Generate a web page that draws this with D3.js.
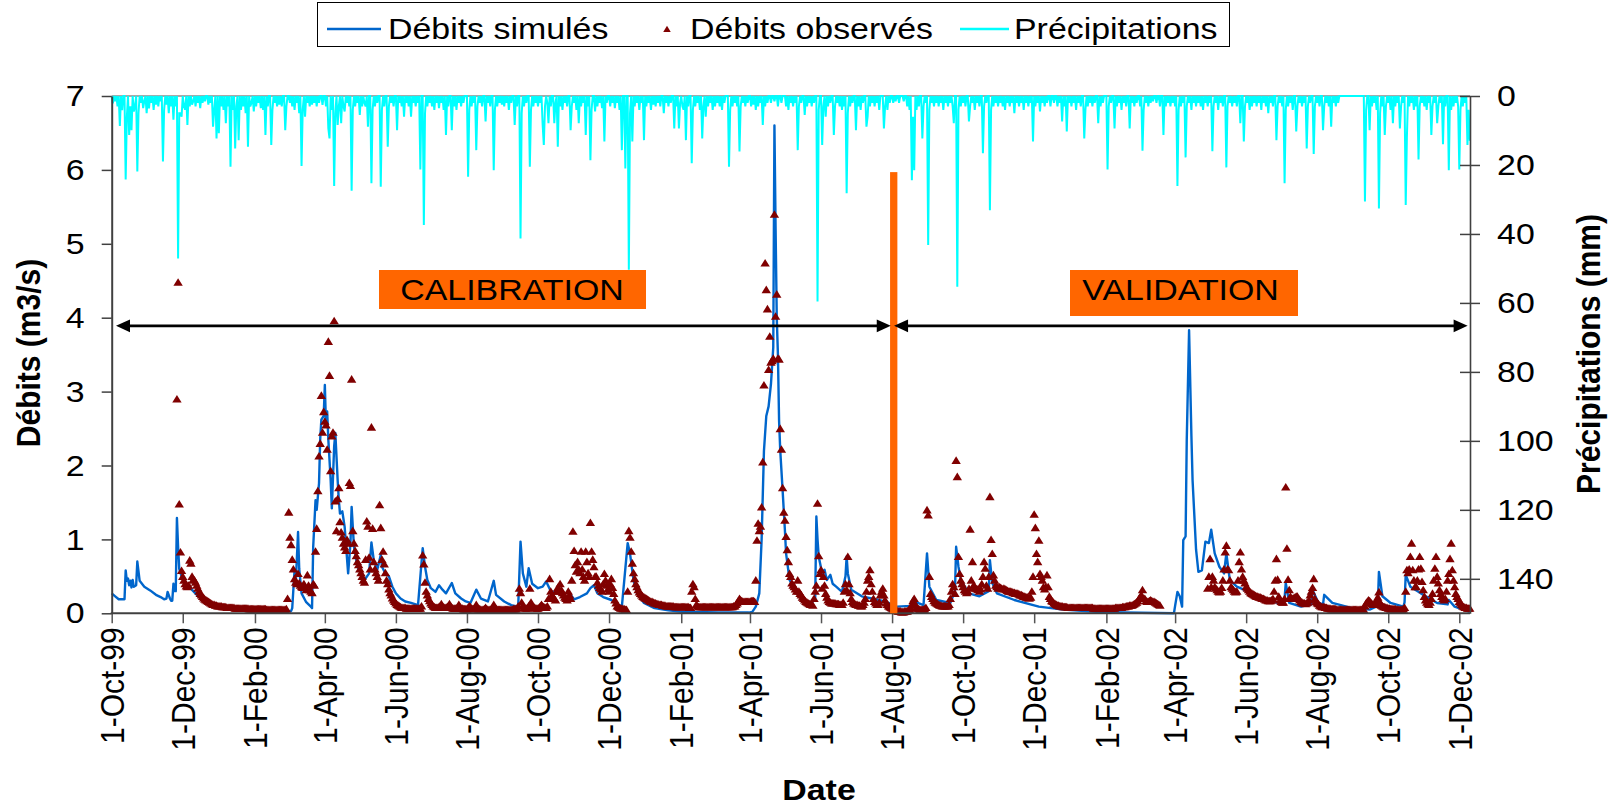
<!DOCTYPE html>
<html><head><meta charset="utf-8">
<script src="https://cdn.jsdelivr.net/npm/d3@7"></script>
<style>body{margin:0;background:#fff}</style>
</head><body><svg id="c" width="1614" height="807"></svg>
<script>
// ---------------- DATA ----------------
const startDate = "1999-10-01";           // day 0 of all day offsets
const lastDay = 1166;                      // 10-Dec-2002
const tickDates = ["1999-10-01","1999-12-01","2000-02-01","2000-04-01","2000-06-01","2000-08-01","2000-10-01","2000-12-01","2001-02-01","2001-04-01","2001-06-01","2001-08-01","2001-10-01","2001-12-01","2002-02-01","2002-04-01","2002-06-01","2002-08-01","2002-10-01","2002-12-01"];
const xTickLabels = ["1-Oct-99","1-Dec-99","1-Feb-00","1-Apr-00","1-Jun-00","1-Aug-00","1-Oct-00","1-Dec-00","1-Feb-01","1-Apr-01","1-Jun-01","1-Aug-01","1-Oct-01","1-Dec-01","1-Feb-02","1-Apr-02","1-Jun-02","1-Aug-02","1-Oct-02","1-Dec-02"];
const yLeftTicks = [0,1,2,3,4,5,6,7];
const yRightTicks = [0,20,40,60,80,100,120,140];
const legendLabels = ["Débits simulés","Débits observés","Précipitations"];
const periodLabels = ["CALIBRATION","VALIDATION"];
const splitDate = "2001-08-01";
const splitTop = 5.97;      // m3/s, top of the separator bar
const arrowLevel = 3.89;    // m3/s, level of the period arrows

// Simulated discharge (m3/s): [day offset, value]
const simQ = [[0,.27],[3,.23],[6,.19],[9,.19],[11,.19],[12,.58],[13,.44],[14,.47],[15,.38],[16,.44],[17,.35],[18,.45],[19,.36],[21,.38],[22,.7],[24,.44],[28,.36],[33,.31],[38,.25],[42,.22],[45,.19],[47,.2],[48,.29],[50,.2],[51,.17],[52,.17],[53,.4],[54,.3],[55,.3],[56,1.29],[57,.9],[58,.6],[60,.5],[63,.42],[66,.37],[70,.3],[75,.22],[80,.17],[90,.11],[100,.08],[115,.06],[130,.05],[145,.04],[154,.03],[155,.07],[157,.59],[158,.4],[160,1.1],[161,.6],[163,.27],[167,.15],[171,.09],[172,.07],[173,.9],[175,1.53],[176,1.4],[178,1.76],[179,2.35],[180,2.62],[182,2.67],[183,3.09],[184,2.53],[185,2.73],[186,2.35],[188,1.8],[189,1.42],[191,2.26],[192,2.44],[194,1.8],[195,1.53],[196,1.35],[198,1.38],[200,1.17],[203,.54],[205,.95],[206,1.44],[208,.9],[211,.63],[214,.54],[217,.45],[221,.54],[223,.96],[225,.72],[228,.59],[231,.79],[232,.63],[235,.54],[238,.5],[241,.36],[244,.27],[248,.2],[252,.16],[257,.14],[263,.11],[267,.88],[269,.63],[271,.45],[274,.34],[278,.29],[281,.38],[284,.32],[287,.27],[292,.41],[295,.27],[300,.2],[304,.16],[308,.14],[313,.32],[317,.2],[323,.16],[328,.44],[330,.25],[337,.16],[343,.11],[349,.09],[351,.97],[353,.54],[356,.36],[358,.61],[361,.4],[366,.34],[370,.36],[373,.43],[377,.3],[383,.27],[385,.32],[388,.2],[394,.25],[397,.19],[402,.22],[408,.27],[411,.34],[414,.38],[417,.27],[422,.22],[429,.18],[438,.09],[443,.95],[445,.81],[448,.45],[451,.27],[457,.14],[466,.07],[478,.04],[490,.02],[521,.01],[547,.01],[550,.02],[553,.09],[556,.27],[558,1.0],[560,2.2],[562,2.67],[564,2.8],[566,3.1],[568,3.6],[569,6.6],[570,5.2],[571,4.0],[572,3.5],[573,2.6],[574,2.2],[576,1.67],[578,1.12],[579,.81],[582,.45],[588,.27],[595,.18],[601,.14],[604,.2],[605,1.31],[606,1.0],[607,.77],[610,.54],[612,.59],[614,.45],[617,.52],[619,.4],[622,.36],[627,.29],[630,.5],[631,.77],[632,.54],[635,.32],[644,.23],[659,.18],[667,.14],[674,.09],[686,.1],[689,.2],[692,.14],[697,.11],[700,.81],[702,.36],[708,.18],[720,.14],[724,.3],[725,.9],[727,.63],[729,.45],[736,.27],[745,.23],[753,.3],[754,.72],[756,.41],[760,.27],[775,.18],[796,.09],[817,.05],[845,.02],[870,.01],[912,0],[913,.1],[915,.29],[917,.23],[919,.09],[920,.99],[922,1.04],[923,2.35],[925,3.83],[927,2.4],[928,1.8],[931,.86],[933,.56],[936,.58],[939,.97],[942,.95],[944,1.13],[947,.81],[951,.63],[955,.54],[957,.81],[960,.45],[966,.36],[972,.32],[978,.27],[989,.2],[1001,.14],[1007,.2],[1008,.41],[1011,.14],[1021,.09],[1030,.12],[1031,.32],[1036,.14],[1040,.12],[1041,.25],[1048,.14],[1065,.07],[1080,.05],[1087,.1],[1088,.56],[1091,.23],[1098,.14],[1109,.09],[1110,.15],[1111,.52],[1115,.36],[1124,.27],[1138,.14],[1147,.12],[1148,.18],[1153,.09],[1166,.02]];

// Observed discharge (m3/s), one value per day
const obsStart1 = "1999-11-26";
const obsQ1 = [
2.9,4.48,1.48,.83,.58,.5,.45,.4,.37,.36,
.38,.72,.68,.5,.46,.45,.42,.38,.34,.3,
.27,.25,.23,.21,.19,.18,.17,.16,.15,.14,
.13,.12,.12,.11,.11,.1,.1,.1,.1,.09,
.09,.09,.09,.08,.08,.08,.08,.08,.08,.08,
.07,.07,.07,.07,.07,.07,.07,.07,.07,.07,
.07,.07,.06,.06,.06,.06,.06,.06,.06,.06,
.06,.06,.06,.06,.06,.06,.06,.05,.05,.05,
.05,.05,.05,.05,.05,.05,.05,.05,.05,.05,
.05,.05,.05,.05,.06,.2,1.37,1.03,.93,.73,
.6,.47,.42,.4,.54,.41,.38,.36,.35,.4,
.35,.32,.52,.38,.32,.3,.28,.4,.38,.84,
1.15,1.66,2.13,2.3,2.95,2.45,2.73,2.6,2.55,2.22,
3.68,3.22,1.93,2.4,2.45,3.96,1.52,1.12,1.55,1.7,
1.24,1.1,1.03,.95,.9,.85,1,.95,1.77,1.73,
3.17,1.12,.95,.85,.78,.7,.66,.6,.55,.5,
.45,.42,.73,1.25,1.18,.76,.6,2.52,1.15,.7,
.6,.55,.5,.45,1.47,1.16,.73,.84,.67,.55,
.45,.4,.33,.28,.25,.21,.18,.16,.14,.12,
.11,.1,.09,.08,.08,.08,.08,.07,.07,.07,
.07,.07,.07,.07,.07,.07,.07,.07,.07,.07,
.1,.79,.67,.42,.3,.25,.2,.17,.14,.12,
.1,.09,.08,.08,.08,.09,.1,.13,.1,.08,
.08,.08,.09,.1,.13,.1,.08,.07,.07,.07,
.07,.08,.12,.09,.07,.07,.06,.06,.06,.06,
.08,.1,.09,.07,.06,.06,.08,.12,.08,.06,
.06,.05,.05,.05,.06,.08,.06,.05,.05,.05,
.05,.08,.12,.08,.06,.05,.05,.05,.05,.05,
.05,.05,.05,.05,.05,.05,.05,.05,.05,.06,
.06,.06,.07,.1,.34,.28,.15,.1,.08,.07,
.07,.07,.1,.34,.15,.1,.08,.08,.07,.07,
.07,.08,.1,.12,.1,.09,.08,.08,.1,.2,
.47,.3,.25,.22,.2,.18,.3,.35,.3,.4,
.32,.28,.25,.22,.2,.18,.3,.25,.2,.45,
1.11,.85,.66,.57,.7,.6,.55,.84,.6,.5,
.45,.84,.7,.55,.5,1.23,.84,.73,.63,.5,
.5,.42,.38,.35,.33,.3,.4,.54,.45,.38,
.33,.3,.4,.47,.35,.27,.18,.14,.1,.09,
.08,.07,.07,.06,.06,.05,.05,.3,1.12,1.03,
.84,.68,.55,.47,.4,.36,.32,.29,.27,.25,
.23,.22,.21,.2,.19,.18,.17,.16,.16,.15,
.14,.14,.13,.13,.12,.12,.12,.11,.11,.11,
.1,.1,.1,.1,.1,.1,.1,.09,.09,.09,
.09,.09,.09,.09,.09,.09,.09,.09,.09,.09,
.08,.08,.3,.4,.36,.2,.12,.1,.09,.09,
.09,.09,.09,.09,.09,.09,.09,.09,.09,.09,
.09,.09,.09,.09,.09,.09,.09,.09,.09,.09,
.09,.09,.09,.09,.09,.09,.09,.09,.1,.1,
.12,.14,.17,.2,.18,.17,.16,.16,.16,.16,
.16,.16,.16,.17,.17,.17,.16,.45,.99,1.22,
1.12,1.18,1.44,2.05,3.09,4.74,4.38,4.12,3.3,3.75,
3.4,3.42,3.45,5.4,4.02,4.32,3.45,3.44,2.5,2.22,
1.7,1.37,1.26,1.04,.86,.7,.54,.5,.41,.38,
.36,.33,.3,.45,.3,.27,.25,.22,.2,.18,
.16,.15,.14,.13,.12,.12,.11,.2,.3,.38,
1.49,.78,.54,.59,.34,.5,.38,.27,.22,.18,
.16,.15,.14,.14,.14,.14,.13,.13,.13,.12,
.12,.12,.15,.3,.4,.32,.77,.4,.28,.2,
.16,.14,.13,.12,.12,.11,.11,.1,.1,.12,
.15,.2,.3,.45,.5,.59,.4,.3,.2,.16,
.14,.12,.12,.15,.25,.3,.34,.25,.18,.14,
.12,.1,.09,.08,.07,.06,.05,.04,.04,.03,
.03,.03,.02,.02,.02,.03,.03,.03,.04,.05,
.07,.12,.17,.2,.12,.09,.07,.06,.05,.05,
.05,.05,.06,.08,1.4,1.33,.5,.27,.23,.2,
.17,.15,.14,.13,.12,.11,.11,.1,.1,.1,
.1,.1,.1,.12,.2,.3,.4,.36,.27,2.07,
1.85,.77,.54,.45,.4,.36,.32,.3,.28,.3,
.34,1.14,.45,.7,.38,.36,.34,.33,.32,.3,
.33,.4,.5,.7,.61,.38,.34,.5,1.58,1.0,
.81,.52,.45,.38,.36,.34,.36,.35,.34,.33,
.34,.33,.32,.31,.3,.3,.3,.29,.28,.28,
.27,.27,.27,.26,.25,.25,.24,.23,.23,.22,
.22,.21,.21,.22,.3,.5,1.34,1.16,.81,.7,
.99,.54,.5,.45,.36,.33,.36,.52,.36,.23,
.2,.17,.16,.14,.13,.12,.11,.11,.1,.1,
.1,.09,.09,.09,.09,.08,.08,.08,.08,.08,
.08,.08,.08,.08,.08,.08,.08,.08,.08,.08,
.08,.08,.08,.08,.08,.08,.08,.07,.07,.07,
.07,.07,.07,.07,.07,.07,.07,.07,.07,.07,
.07,.07,.07,.07,.07,.07,.08,.08,.08,.08,
.08,.08,.09,.09,.09,.1,.1,.1,.11,.11,
.11,.12,.13,.14,.15,.17,.2,.22,.25,.32,
.2,.2,.17,.16,.16,.17,.18,.17,.16,.16,
.15,.14,.13,.12,.11];
const obsStart2 = "2002-04-29";
const obsQ2 = [
.34,.5,.74,.36,.5,.45,.36,.34,.32,.3,
.29,.3,.35,.45,.6,.83,.92,.6,.59,.45,
.36,.34,.32,.3,.29,.3,.45,.7,.83,.6,
.5,.45,.41,.36,.34,.32,.3,.28,.27,.26,
.25,.24,.23,.23,.22,.22,.21,.2,.2,.19,
.18,.18,.17,.17,.17,.18,.2,.3,.45,.74,
.46,.23,.18,.16,.15,.15,.2,1.71,.88,.46,
.32,.23,.2,.2,.21,.22,.23,.23,.2,.18,
.16,.15,.14,.14,.13,.14,.15,.18,.25,.3,
.35,.47,.2,.16,.14,.13,.11,.1,.09,.09,
.09,.08,.08,.07,.07,.07,.06,.06,.06,.06,
.06,.05,.05,.05,.05,.05,.05,.05,.05,.05,
.05,.05,.05,.05,.05,.05,.05,.05,.05,.05,
.05,.05,.05,.05,.05,.1,.14,.16,.18,.17,
.15,.13,.12,.12,.13,.18,.22,.29,.15,.11,
.1,.09,.09,.08,.08,.07,.07,.06,.06,.06,
.06,.06,.05,.05,.05,.05,.05,.05,.06,.08,
.3,.59,.55,.6,.77,.95,.59,.45,.36,.36,
.45,.6,.77,.61,.43,.32,.23,.18,.15,.13,
.12,.15,.2,.27,.45,.61,.77,.5,.41,.32,
.27,.23,.2,.18,.2,.3,.45,.54,.74,.95,
.59,.45,.36,.27,.23,.2,.16,.14,.12,.1,
.09,.08,.08,.07,.07,.07];

// Daily precipitation (mm): [day offset, mm]; unlisted days are dry
const rainMM = [[1,2.1],[3,1.5],[5,3],[7,8.7],[9,4.1],[12,24.2],[13,6],[15,11.3],[16,3],[17,9.9],[19,4.5],[20,3],[22,21.9],[23,5],[25,2],[27,3.5],[28,1.5],[30,5],
[32,3.6],[34,2],[36,4],[38,2.5],[40,3],[42,1.5],[44,19],[45,4],[47,2.5],[49,5],[51,3],[53,6.9],[55,3],[57,47.1],[58,5],[59,5],[60,6],
[62,3],[63,4],[65,8.4],[67,3],[69,2.5],[70,1.5],[72,3],[74,2],[76,3.5],[78,2],[80,1.5],[83,2.5],[85,2],[87,8.9],[88,4],[90,12.3],
[92,10.8],[94,3],[96,4],[98,7.9],[100,3],[102,20.5],[104,4],[106,15.2],[107,3],[109,12.8],[111,4],[113,3],[115,5],[117,14.7],[119,3],[120,2],[122,4.5],
[124,3],[126,2],[128,3.5],[130,4],[132,11.3],[134,3],[137,14.2],[138,4],[140,2],[142,3],[144,2.5],[146,3],[149,9.9],[150,3],
[153,2],[155,3],[157,4],[159,2],[161,5],[163,20.3],[164,4],[166,6],[168,2],[170,3],[172,2.5],[174,2],[176,3],[178,2],[181,2.6],
[184,3],[186,9.4],[187,12.3],[189,4],[191,26.1],[192,5],[194,8.4],[195,3],[197,7.9],[199,3],[200,4.5],[202,2],[204,3],[206,27.5],[207,4],[209,3],[211,2],
[213,5.5],[215,3],[217,2],[218,3],[220,8.9],[223,25.3],[224,4],[226,3],[228,2],[231,26.3],[232,4],[234,3],[237,14.7],[238,3],[240,2],[242,3],
[245,9.9],[247,2],[249,3],[251,6],[253,2],[255,3],[257,6],[259,2],[261,3],[263,2],[265,21.3],[268,37.4],[269,5],[271,3],[273,2],
[275,3],[277,4],[279,2],[281,3.5],[283,2],[285,4],[287,11.3],[289,3],[292,9.9],[294,3],[296,4],[298,2],[300,3],[302,2],
[306,23.4],[307,4],[309,3],[311,2],[313,15.7],[314,3],[316,2],[318,3],[321,7.4],[323,2],[325,3],[328,21.5],[329,4],[331,3],[333,2],[335,2.5],
[337,3],[339,2],[341,4],[343,2],[346,8.4],[348,3],[351,41.3],[352,5],[354,3],[356,2],[359,20.5],[360,4],[362,3],[364,2],
[366,3],[368,2],[370,8.4],[371,14.2],[372,3],[374,2],[375,7.9],[377,3],[380,7.9],[381,2],[383,14.7],[385,3],[387,4],[389,2],[391,3],[394,9.9],[395,3],
[397,2],[399,4],[401,7.9],[403,3],[405,2],[407,11.3],[409,3],[411,18.6],[412,4],[415,4.5],[417,3],[419,2],[421,3.5],[423,13.2],[425,2],
[428,3],[430,2],[432,3.5],[434,2],[436,4],[438,15.7],[441,21],[444,50.4],[445,5],[447,13.2],[449,3],[451,2],[453,4],[455,2],[457,12.8],
[459,3],[461,2],[463,4],[465,2.5],[467,3],[469,2],[471,3],[474,5],[476,2],[478,3],[480,2],[483,9.4],[485,3],[487,9.4],[488,2],
[490,3],[491,4],[493,12.8],[495,3],[498,19.5],[499,4],[501,3],[503,2],[505,4],[507,12.3],[508,3],[510,6],[512,3],[514,2],[516,4],
[518,3],[520,2],[522,3],[524,4],[526,2],[530,20.5],[531,4],[533,3],[535,2],[537,3],[539,16.1],[540,3],[542,2],[544,3],[546,2],
[549,3],[551,2.5],[553,4],[555,3],[557,2],[559,8.4],[561,3],[563,2],[566,2],[569,1.5],[572,3],[575,2],
[579,3],[581,4],[583,2],[585,3],[587,2],[589,15.7],[590,3],[592,2],[595,5.5],[597,3],[599,2],[601,3],[603,2],[606,59.6],[607,4],
[610,14.2],[611,3],[613,6],[615,3],[617,2],[620,11.3],[621,3],[623,2],[625,3],[627,4],[629,3],[631,28.2],[632,5],[634,3],[636,2],
[639,9.9],[641,3],[643,4],[645,2],[648,8.9],[649,6],[651,3],[653,2],[655,3],[657,2],[659,4],[663,9.4],[664,3],[666,4],[668,2],
[671,2],[673,1.5],[676,2],[680,1.5],[683,3],[685,4],[687,24.4],[688,6],[689,21.5],[691,4],[693,3],[696,12.3],[697,3],[699,2],
[701,43.2],[702,4],[704,2],[706,3],[708,2],[710,3],[712,2],[714,4],[716,2],[718,3],[720,2],[722,3],[723,7.9],[726,55.3],[727,4],[729,3],
[731,2],[733,3],[736,7.4],[737,3],[739,2],[741,4],[743,2],[745,3],[748,16.6],[749,3],[751,2],[754,33.1],[755,4],[757,3],[759,2],[761,3],
[763,2],[765,3],[767,4],[769,2],[771,3],[773,2],[775,5],[777,2],[779,3],[781,2],[783,4],[785,2],[787,3],[789,2],[791,13.2],
[793,3],[795,2],[797,4.5],[799,2],[801,3],[803,2],[806,3],[809,2],[812,3],[814,2],[816,7.4],[818,3],[820,10.3],[822,2],
[824,3],[826,2],[828,4],[830,2],[832,3],[835,12.3],[836,4],[838,3],[840,2],[842,3],[844,2],[847,7.9],[849,3],[851,2],
[855,21.3],[856,3],[858,2],[861,9.4],[863,3],[865,2],[867,4],[869,2],[871,3],[874,9.4],[876,2],[878,3],[880,2],
[883,3],[885,15.9],[886,4],[888,2],[890,3],[892,2],[894,1.5],[897,2],[900,3],[903,11.3],[905,3],[907,2],[909,3],[911,2],
[913,3],[915,26.1],[916,4],[918,3],[920,2],[922,17.8],[923,3],[925,2],[927,4],[929,2],[931,3],[933,2],[935,3],[937,4],[939,2],[941,3],
[943,2],[945,16],[946,3],[948,2],[950,4],[952,2],[954,3],[957,20.7],[958,3],[960,2],[962,3],[964,2],[966,3],[969,7.9],[972,13.2],[973,3],
[975,2],[977,4],[979,3],[981,2],[983,3],[985,2],[987,4],[989,2],[991,3],[993,5],[995,2],[997,3],[1000,12.8],[1001,3],[1003,2],
[1005,3],[1007,25.3],[1008,4],[1010,3],[1012,2],[1014,4],[1017,10.3],[1018,3],[1020,2],[1022,3],[1024,2],[1026,15.2],[1027,3],[1029,2],[1032,16.8],[1033,3],
[1035,2],[1037,3],[1040,9.9],[1041,3],[1043,2],[1045,3],[1047,8.9],[1049,2],[1051,3],[1053,2],
[1076,30.6],[1077,4],[1080,9.9],[1082,3],[1084,2],[1086,4],[1088,32.6],[1089,5],[1091,3],[1093,11.3],[1094,3],
[1096,2],[1098,4],[1100,7.9],[1102,3],[1104,2],[1106,9.4],[1107,3],[1109,2],[1111,31.6],[1112,12],[1114,3],[1116,2],[1118,4],[1120,3],[1122,18.4],[1123,3],[1125,2],
[1127,3],[1129,4],[1131,2],[1133,11.3],[1134,3],[1136,2],[1138,7.9],[1139,3],[1141,2],[1143,14],[1145,3],[1148,21.5],[1150,4],[1152,3],[1154,2],[1156,3],
[1157,21.3],[1158,4],[1160,3],[1162,2],[1164,14.2],[1165,4],[1166,13]];

// ---------------- CHART ----------------
const FONT = '"Liberation Sans", Arial, sans-serif';
const SX = 1.13; // horizontal stretch of the original picture's lettering
const svg = d3.select("#c");
svg.append("rect").attr("width",1614).attr("height",807).attr("fill","#fff");

const parse = d3.utcParse("%Y-%m-%d");
const t0 = parse(startDate);
const dayDate = i => d3.utcDay.offset(t0, i);
const plotL = 111.7, plotR = 1470, plotT = 96, plotB = 613.3;
const x = d3.scaleUtc().domain([t0, parse("2002-12-01")]).range([plotL, 1459.3]);
const yL = d3.scaleLinear().domain([0,7]).range([plotB, plotT]);
const yR = d3.scaleLinear().domain([0,150]).range([plotT, plotB]);

function txt(parent, px, py, s, o = {}) {
  return parent.append("text")
    .attr("transform", `translate(${px},${py}) scale(${SX},1)` + (o.rot ? " rotate(-90)" : ""))
    .attr("text-anchor", o.anchor || "start")
    .attr("dy", o.dy || null)
    .attr("font-family", FONT)
    .attr("font-size", o.size || 30)
    .attr("font-weight", o.bold ? "bold" : "normal")
    .attr("fill", "#000")
    .text(s);
}

// top border of plot area
svg.append("line").attr("x1",plotL).attr("x2",plotR).attr("y1",plotT).attr("y2",plotT)
  .attr("stroke","#8c8c8c").attr("stroke-width",1.5);

// simulated discharge line
svg.append("path").datum(simQ)
  .attr("d", d3.line().x(d => x(dayDate(d[0]))).y(d => yL(d[1])))
  .attr("fill","none").attr("stroke","#0066cc").attr("stroke-width",2.4).attr("stroke-linejoin","round");

// observed triangles
const obsPts = [];
obsQ1.forEach((v,i) => obsPts.push([d3.utcDay.offset(parse(obsStart1), i), v]));
obsQ2.forEach((v,i) => obsPts.push([d3.utcDay.offset(parse(obsStart2), i), v]));
const tri = "M0,-4 L4.7,3.6 L-4.7,3.6 Z";
svg.append("g").selectAll("path").data(obsPts).join("path")
  .attr("d", tri).attr("transform", d => `translate(${x(d[0])},${yL(d[1])})`)
  .attr("fill","#800000");

// precipitation (secondary, inverted axis)
const rainMap = new Map(rainMM);
const rainDaily = d3.range(0, lastDay + 1).map(i => [dayDate(i), rainMap.get(i) || 0]);
svg.append("path").datum(rainDaily)
  .attr("d", d3.line().x(d => x(d[0])).y(d => yR(d[1])))
  .attr("fill","none").attr("stroke","#00ffff").attr("stroke-width",2).attr("stroke-linejoin","miter");

// left axis
const gL = svg.append("g").attr("transform",`translate(${plotL},0)`)
  .call(d3.axisLeft(yL).tickValues(yLeftTicks).tickFormat(d3.format("d")).tickSize(10).tickSizeOuter(0).tickPadding(14));
gL.select(".domain").attr("stroke","#404040").attr("stroke-width",2);
gL.selectAll(".tick line").attr("stroke","#404040").attr("stroke-width",1.5);
gL.selectAll(".tick text").attr("font-family",FONT).attr("font-size",30).attr("fill","#000")
  .attr("transform",`scale(${SX},1)`);

// right axis
const gR = svg.append("g").attr("transform",`translate(${plotR},0)`)
  .call(d3.axisRight(yR).tickValues(yRightTicks).tickFormat(d3.format("d")).tickSize(10).tickSizeOuter(0).tickPadding(14));
gR.select(".domain").attr("stroke","#404040").attr("stroke-width",1.6);
gR.selectAll(".tick line").attr("x1",-10).attr("stroke","#404040").attr("stroke-width",1.5);
gR.selectAll(".tick text").attr("font-family",FONT).attr("font-size",30).attr("fill","#000")
  .attr("transform",`scale(${SX},1)`);

// bottom axis
const tickDs = tickDates.map(parse);
const gB = svg.append("g").attr("transform",`translate(0,${plotB})`)
  .call(d3.axisBottom(x).tickValues(tickDs).tickSize(10).tickSizeOuter(0).tickFormat(""));
gB.select(".domain").remove();
gB.selectAll(".tick line").attr("stroke","#555").attr("stroke-width",1.5);
svg.append("line").attr("x1",plotL-1).attr("x2",plotR).attr("y1",plotB).attr("y2",plotB)
  .attr("stroke","#404040").attr("stroke-width",2);
tickDs.forEach((d,i) => txt(svg, x(d), plotB + 14, xTickLabels[i], {rot:true, anchor:"end", dy:"0.36em"}));

// axis titles
txt(svg, 40, 353, "Débits (m3/s)", {rot:true, anchor:"middle", bold:true});
txt(svg, 1600, 354, "Précipitations (mm)", {rot:true, anchor:"middle", bold:true});
txt(svg, 819, 800, "Date", {anchor:"middle", bold:true});

// separator bar
const xs = x(parse(splitDate));
svg.append("rect").attr("x", xs - 2).attr("width", 7.3)
  .attr("y", yL(splitTop)).attr("height", yL(0) - yL(splitTop)).attr("fill","#ff6600");

// period arrows
const ya = yL(arrowLevel);
function arrow(x1, x2) {
  svg.append("line").attr("x1",x1+10).attr("x2",x2-10).attr("y1",ya).attr("y2",ya)
    .attr("stroke","#000").attr("stroke-width",2.7);
  svg.append("path").attr("d",`M${x1},${ya} L${x1+14},${ya-6.3} L${x1+14},${ya+6.3} Z`).attr("fill","#000");
  svg.append("path").attr("d",`M${x2},${ya} L${x2-14},${ya-6.3} L${x2-14},${ya+6.3} Z`).attr("fill","#000");
}
arrow(plotL + 4.3, xs - 1.3);
arrow(xs + 2, plotR - 2.4);

// period boxes
const boxes = [{x0:379, x1:646, y0:270, y1:309, cx:512}, {x0:1070, x1:1298, y0:270, y1:316, cx:1180.6}];
boxes.forEach((b,i) => {
  svg.append("rect").attr("x",b.x0).attr("y",b.y0).attr("width",b.x1-b.x0).attr("height",b.y1-b.y0).attr("fill","#ff6600");
  txt(svg, b.cx, 300, periodLabels[i], {anchor:"middle"});
});

// legend
const lg = svg.append("g");
lg.append("rect").attr("x",317.5).attr("y",2.5).attr("width",912).attr("height",44)
  .attr("fill","#fff").attr("stroke","#000").attr("stroke-width",1);
lg.append("line").attr("x1",327).attr("x2",381).attr("y1",29).attr("y2",29).attr("stroke","#0066cc").attr("stroke-width",2.4);
txt(lg, 388, 38.5, legendLabels[0]);
lg.append("path").attr("d",tri).attr("transform","translate(667,29) scale(0.8)").attr("fill","#800000");
txt(lg, 690, 38.5, legendLabels[1]);
lg.append("line").attr("x1",960).attr("x2",1009).attr("y1",29).attr("y2",29).attr("stroke","#00ffff").attr("stroke-width",2.4);
txt(lg, 1014, 38.5, legendLabels[2]);
</script>
</body></html>
